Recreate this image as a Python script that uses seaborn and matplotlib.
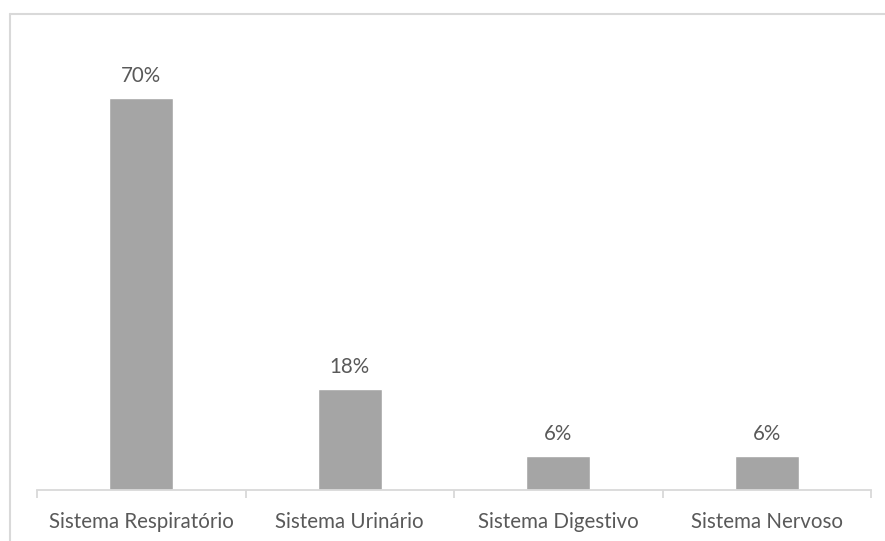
import matplotlib
matplotlib.use("Agg")
import matplotlib.pyplot as plt
import pandas as pd
import seaborn as sns
from matplotlib.lines import Line2D

categories = ["Sistema Respiratório", "Sistema Urinário", "Sistema Digestivo", "Sistema Nervoso"]
values = [70, 18, 6, 6]
labels = ["70%", "18%", "6%", "6%"]

BAR_COLOR = "#A5A5A5"
TEXT_COLOR = "#595959"
LINE_COLOR = "#D9D9D9"
FONT_SIZE = 14.8

sns.set_theme(style="white")
plt.rcParams["font.family"] = ["Lato", "DejaVu Sans"]

df = pd.DataFrame({"categoria": categories, "valor": values})

W, H = 885, 541
fig = plt.figure(figsize=(W / 100, H / 100), dpi=100)
ax = fig.add_axes([37 / W, 51 / H, (871 - 37) / W, 448 / H])

sns.barplot(data=df, x="categoria", y="valor", color=BAR_COLOR, width=0.307,
            saturation=1, ax=ax)

ax.set_ylim(0, 80)
ax.set_xlim(-0.5, len(categories) - 0.5)
ax.set_xlabel("")
ax.set_ylabel("")
ax.set_yticks([])
for side in ["top", "right", "left"]:
    ax.spines[side].set_visible(False)
ax.spines["bottom"].set_color(LINE_COLOR)
ax.spines["bottom"].set_linewidth(1.3)

# category boundary ticks
ax.set_xticks([i - 0.5 for i in range(len(categories) + 1)], minor=True)
ax.tick_params(axis="x", which="minor", direction="out", length=6,
               width=1.3, color=LINE_COLOR, bottom=True)
ax.tick_params(axis="x", which="major", length=0, pad=16,
               labelsize=FONT_SIZE, labelcolor=TEXT_COLOR)

for i, (v, lab) in enumerate(zip(values, labels)):
    ax.annotate(lab, (i, v), xytext=(0, 16), textcoords="offset points",
                ha="center", va="center", fontsize=FONT_SIZE, color=TEXT_COLOR)

# chart border (top and left visible, rest cropped)
fig.add_artist(Line2D([10 / W, 1], [1 - 14 / H, 1 - 14 / H], color=LINE_COLOR, lw=1.5))
fig.add_artist(Line2D([10 / W, 10 / W], [0, 1 - 14 / H], color=LINE_COLOR, lw=1.5))

fig.savefig("out.png", dpi=100)
